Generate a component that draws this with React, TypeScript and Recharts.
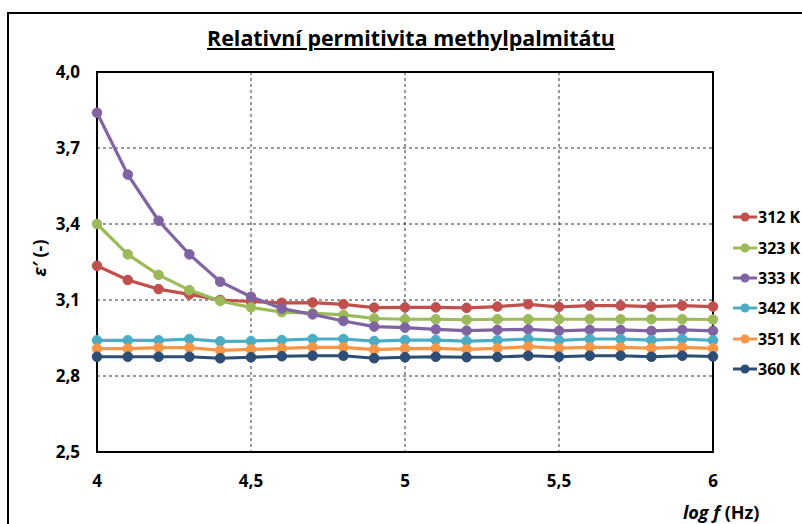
import { LineChart, Line, XAxis, YAxis, CartesianGrid, Legend, ReferenceArea, Label } from 'recharts'

const logF = [4.0, 4.1, 4.2, 4.3, 4.4, 4.5, 4.6, 4.7, 4.8, 4.9, 5.0, 5.1, 5.2, 5.3, 5.4, 5.5, 5.6, 5.7, 5.8, 5.9, 6.0]

const eps312 = [3.235, 3.179, 3.143, 3.122, 3.1, 3.094, 3.089, 3.09, 3.083, 3.07, 3.071, 3.071, 3.069, 3.074, 3.083, 3.073, 3.078, 3.078, 3.074, 3.078, 3.074]
const eps323 = [3.4, 3.28, 3.199, 3.139, 3.096, 3.071, 3.052, 3.048, 3.041, 3.027, 3.024, 3.024, 3.022, 3.024, 3.024, 3.024, 3.024, 3.024, 3.024, 3.024, 3.023]
const eps333 = [3.839, 3.595, 3.413, 3.28, 3.172, 3.113, 3.066, 3.043, 3.017, 2.995, 2.991, 2.984, 2.979, 2.982, 2.984, 2.978, 2.982, 2.982, 2.978, 2.982, 2.978]
const eps342 = [2.941, 2.941, 2.941, 2.946, 2.937, 2.938, 2.942, 2.946, 2.946, 2.938, 2.942, 2.942, 2.938, 2.941, 2.946, 2.941, 2.946, 2.946, 2.942, 2.946, 2.941]
const eps351 = [2.908, 2.908, 2.912, 2.912, 2.901, 2.905, 2.909, 2.913, 2.913, 2.904, 2.908, 2.909, 2.905, 2.909, 2.916, 2.91, 2.913, 2.913, 2.91, 2.913, 2.909]
const eps360 = [2.876, 2.876, 2.876, 2.876, 2.87, 2.874, 2.878, 2.88, 2.88, 2.87, 2.874, 2.876, 2.874, 2.875, 2.88, 2.876, 2.88, 2.88, 2.876, 2.88, 2.877]

const xTicks = [4, 4.5, 5, 5.5, 6]
const yTicks = [2.5, 2.8, 3.1, 3.4, 3.7, 4.0]

const series = [
  { key: 't312', name: '312 K', color: '#C0504D', values: eps312 },
  { key: 't323', name: '323 K', color: '#9BBB59', values: eps323 },
  { key: 't333', name: '333 K', color: '#8064A2', values: eps333 },
  { key: 't342', name: '342 K', color: '#4BACC6', values: eps342 },
  { key: 't351', name: '351 K', color: '#F79646', values: eps351 },
  { key: 't360', name: '360 K', color: '#2C4D75', values: eps360 },
]

const data = logF.map((x, i) => {
  const row: Record<string, number> = { x }
  series.forEach((s) => {
    row[s.key] = s.values[i]
  })
  return row
})

const FONT = '"Open Sans", sans-serif'
const comma = (v: number, digits?: number) =>
  (digits !== undefined ? v.toFixed(digits) : String(v)).replace('.', ',')

function LegendBox({ payload }: any) {
  return (
    <div style={{ fontFamily: FONT, fontWeight: 700, fontSize: 16 }}>
      {(payload || []).map((p: any) => (
        <div key={p.value} style={{ display: 'flex', alignItems: 'center', height: 30.4, whiteSpace: 'nowrap' }}>
          <svg width={25} height={12}>
            <line x1={0} y1={6} x2={24} y2={6} stroke={p.color} strokeWidth={3} />
            <circle cx={12} cy={6} r={4.5} fill={p.color} />
          </svg>
          <span style={{ color: '#000' }}>{p.value}</span>
        </div>
      ))}
    </div>
  )
}

export default function App() {
  return (
    <div style={{ position: 'fixed', left: 0, top: 0, width: 802, height: 524, overflow: 'hidden', background: '#fff' }}>
      <div
        style={{
          position: 'absolute',
          left: 7,
          top: 12,
          width: 900,
          height: 600,
          border: '2px solid #000',
        }}
      />
      <div
        style={{
          position: 'absolute',
          left: 0,
          width: 822,
          top: 23,
          textAlign: 'center',
          fontFamily: FONT,
          fontWeight: 700,
          fontSize: 21.4,
          textDecoration: 'underline',
          color: '#000',
        }}
      >
        Relativní permitivita methylpalmitátu
      </div>
      <div style={{ position: 'absolute', left: 0, top: 0 }}>
        <LineChart width={802} height={524} data={data} margin={{ top: 72, right: 89, bottom: 42, left: 47 }}>
          <CartesianGrid stroke="#333" strokeDasharray="3 3" horizontalValues={yTicks} verticalValues={xTicks} />
          <XAxis
            dataKey="x"
            type="number"
            domain={[4, 6]}
            ticks={xTicks}
            tickFormatter={(v: number) => comma(v)}
            axisLine={{ stroke: '#000', strokeWidth: 2 }}
            tickLine={false}
            tick={{ fill: '#000', fontFamily: FONT, fontWeight: 700, fontSize: 17 }}
            tickMargin={17}
            height={30}
          >
            <Label
              content={() => (
                <text x={683} y={519} fontFamily={FONT} fontWeight={700} fontSize={18} fill="#000">
                  <tspan fontStyle="italic">log f</tspan>
                  <tspan> (Hz)</tspan>
                </text>
              )}
            />
          </XAxis>
          <YAxis
            type="number"
            domain={[2.5, 4.0]}
            ticks={yTicks}
            tickFormatter={(v: number) => comma(v, 1)}
            axisLine={{ stroke: '#000', strokeWidth: 2 }}
            tickLine={false}
            tick={{ fill: '#000', fontFamily: FONT, fontWeight: 700, fontSize: 17 }}
            tickMargin={11}
            width={50}
            interval={0}
          >
            <Label
              content={() => (
                <text
                  x={46}
                  y={258}
                  transform="rotate(-90 46 258)"
                  textAnchor="middle"
                  fontFamily={FONT}
                  fontWeight={700}
                  fontSize={18}
                  fill="#000"
                >
                  <tspan fontStyle="italic">ε′</tspan>
                  <tspan> (-)</tspan>
                </text>
              )}
            />
          </YAxis>
          <ReferenceArea x1={4} x2={6} y1={2.5} y2={4.0} fill="none" stroke="#000" strokeWidth={2} />
          <Legend
            layout="vertical"
            align="center"
            verticalAlign="middle"
            content={<LegendBox />}
            wrapperStyle={{ position: 'absolute', left: 733, top: 202, width: 68 }}
          />
          {series.map((s) => (
            <Line
              key={s.key}
              dataKey={s.key}
              name={s.name}
              stroke={s.color}
              strokeWidth={3.2}
              dot={{ r: 4.8, fill: s.color, stroke: s.color, strokeWidth: 1 }}
              activeDot={false}
              isAnimationActive={false}
            />
          ))}
        </LineChart>
      </div>
    </div>
  )
}
